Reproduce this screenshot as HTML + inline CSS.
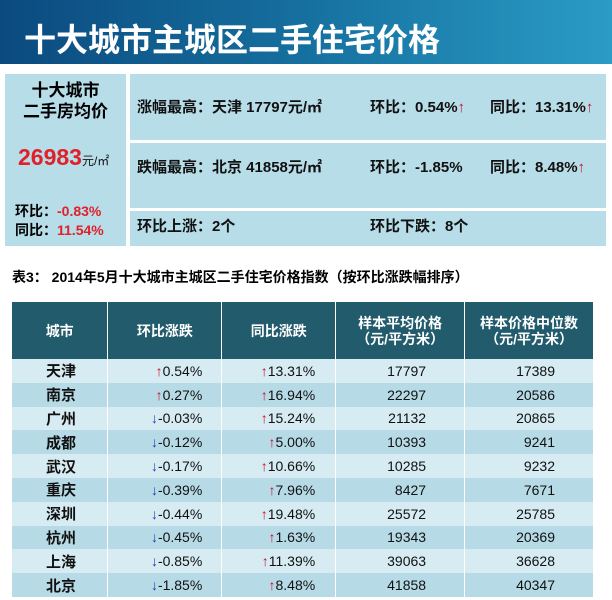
<!DOCTYPE html>
<html><head><meta charset="utf-8"><style>
body{margin:0;width:612px;height:600px;background:#fff;position:relative;overflow:hidden;font-family:"Liberation Sans","Noto Sans CJK SC",sans-serif;}
.abs{position:absolute;}
#title{left:0;top:0;width:612px;height:64px;background:linear-gradient(90deg,#0b4a7f 0%,#16709f 50%,#2a9cc6 100%);}
#title span{position:absolute;left:24px;top:15px;color:#fff;font-size:32px;font-weight:bold;}
.panel{background:#b7dde8;}
.sum{font-size:15px;font-weight:bold;color:#111;position:absolute;white-space:nowrap;}
.up{color:#c8102e;}
.red{color:#e0202a;}
table{position:absolute;left:12px;top:302px;border-collapse:collapse;width:582px;font-size:14px;}
th{background:#215b6c;color:#fff;font-weight:bold;height:57px;font-size:14px;line-height:16px;border-right:1px solid #fff;padding:0;}
td{height:23.8px;padding:0;border-right:1px solid #fff;color:#111;}
tr.a td{background:#d6ebf2;} tr.b td{background:#b6dbe6;}
td.c{font-weight:bold;padding-left:34px;font-size:15px;}
td.r{text-align:right;}
.ua{color:#c8102e;font-weight:bold;} .da{color:#2a3f9a;font-weight:bold;}
</style></head><body>
<div id="title" class="abs"><span>十大城市主城区二手住宅价格</span></div>

<div class="abs panel" style="left:5px;top:74px;width:121px;height:172px;">
 <div style="position:absolute;left:0;width:121px;top:6px;text-align:center;font-size:17px;font-weight:bold;line-height:21px;">十大城市<br>二手房均价</div>
 <div style="position:absolute;left:13px;top:70px;font-size:23px;font-weight:bold;" class="red">26983<span style="font-size:12px;color:#111;font-weight:normal">元/㎡</span></div>
 <div style="position:absolute;left:10px;top:128px;font-size:14px;font-weight:bold;line-height:19px;">环比：<span class="red">-0.83%</span><br>同比：<span class="red">11.54%</span></div>
</div>
<div class="abs panel" style="left:130px;top:74px;width:476px;height:66px;"></div>
<div class="abs panel" style="left:130px;top:143px;width:476px;height:65px;"></div>
<div class="abs panel" style="left:130px;top:211px;width:476px;height:35px;"></div>
<div class="sum" style="left:137px;top:96px;">涨幅最高：天津 17797元/㎡</div>
<div class="sum" style="left:370px;top:96px;">环比：0.54%<span class="up">↑</span></div>
<div class="sum" style="left:490px;top:96px;">同比：13.31%<span class="up">↑</span></div>
<div class="sum" style="left:137px;top:156px;">跌幅最高：北京 41858元/㎡</div>
<div class="sum" style="left:370px;top:156px;">环比：-1.85%</div>
<div class="sum" style="left:490px;top:156px;">同比：8.48%<span class="up">↑</span></div>
<div class="sum" style="left:137px;top:215px;">环比上涨：2个</div>
<div class="sum" style="left:370px;top:215px;">环比下跌：8个</div>

<div class="abs" style="left:12px;top:267px;font-size:14px;font-weight:bold;">表3： 2014年5月十大城市主城区二手住宅价格指数（按环比涨跌幅排序）</div>

<table>
<colgroup><col style="width:96px"><col style="width:114px"><col style="width:114px"><col style="width:129px"><col style="width:129px"></colgroup>
<thead><tr><th>城市</th><th>环比涨跌</th><th>同比涨跌</th><th>样本平均价格<br>（元/平方米）</th><th>样本价格中位数<br>（元/平方米）</th></tr></thead>
<tbody id="tb"></tbody></table>
<script>
const cities=["天津","南京","广州","成都","武汉","重庆","深圳","杭州","上海","北京"];
const mom=["0.54","0.27","-0.03","-0.12","-0.17","-0.39","-0.44","-0.45","-0.85","-1.85"];
const yoy=["13.31","16.94","15.24","5.00","10.66","7.96","19.48","1.63","11.39","8.48"];
const avg=["17797","22297","21132","10393","10285","8427","25572","19343","39063","41858"];
const med=["17389","20586","20865","9241","9232","7671","25785","20369","36628","40347"];
const tb=document.getElementById('tb');
function arrow(v){return parseFloat(v)>=0?'<span class="ua">↑</span>':'<span class="da">↓</span>';}
cities.forEach((c,i)=>{
 const tr=document.createElement('tr');
 tr.className=i%2?'b':'a';
 
 
 tr.innerHTML='<td class="c">'+c+'</td><td class="r" style="padding-right:19px">'+arrow(mom[i])+mom[i]+'%</td><td class="r" style="padding-right:20px">'+arrow(yoy[i])+yoy[i]+'%</td><td class="r" style="padding-right:38px">'+avg[i]+'</td><td class="r" style="padding-right:38px">'+med[i]+'</td>';
 tb.appendChild(tr);
});
</script>
</body></html>
